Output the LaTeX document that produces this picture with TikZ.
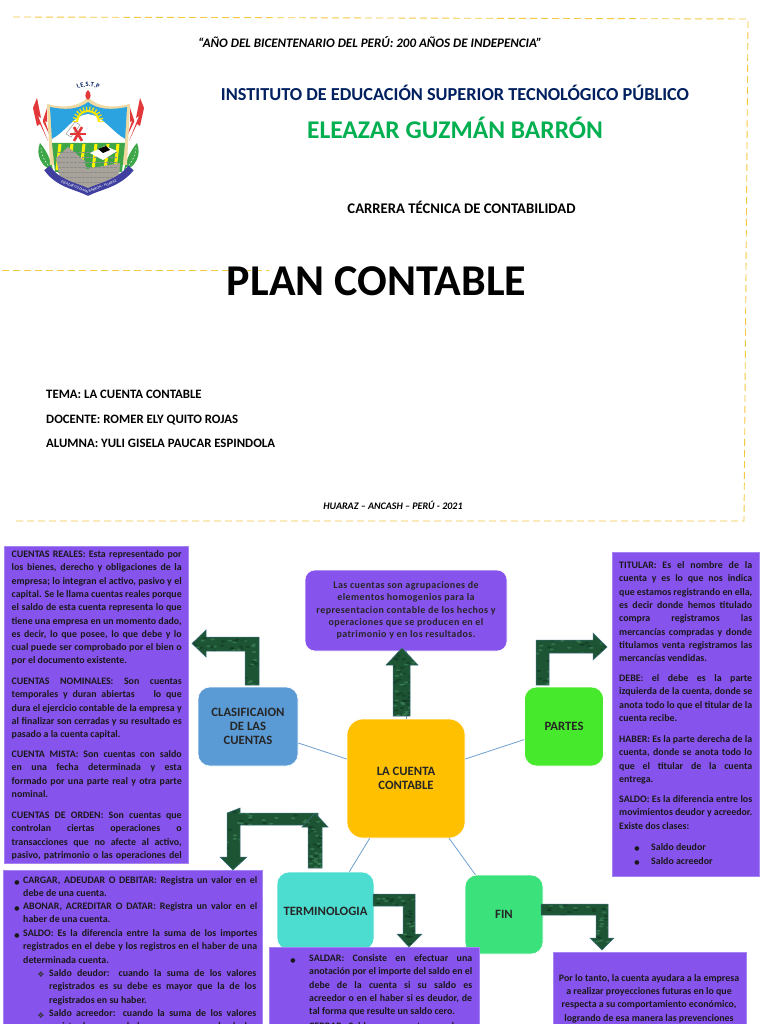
\documentclass[tikz,border=0pt]{standalone}
\usepackage{fontspec}
\setmainfont{Carlito}
\newfontfamily\symbfont{DejaVu Sans}
\usetikzlibrary{calc,decorations.text}
\definecolor{Frame}{HTML}{F5C842}
\definecolor{Panel}{HTML}{8753ED}
\definecolor{PanelEdge}{HTML}{A583F0}
\definecolor{Spoke}{HTML}{6F9FD0}
\definecolor{Core}{HTML}{FFC000}
\definecolor{Sky}{HTML}{5B9BD5}
\definecolor{Lime}{HTML}{46E92B}
\definecolor{Aqua}{HTML}{4DDDD0}
\definecolor{Mint}{HTML}{3BE27B}
\definecolor{Navy}{HTML}{002060}
\definecolor{Leaf}{HTML}{00B050}
\definecolor{ArrowBase}{HTML}{1C5434}
\definecolor{ArrowLight}{HTML}{4A9464}
\definecolor{ArrowDark}{HTML}{0E3220}
\definecolor{ArrowEdge}{HTML}{3F6F80}
\definecolor{LogoBlue}{HTML}{2BA3E0}
\definecolor{LogoTan}{HTML}{F0D9A2}
\definecolor{LogoRed}{HTML}{E2383A}
\definecolor{LogoGreen}{HTML}{3DA648}
\definecolor{LogoStone}{HTML}{A8A39A}
\definecolor{LogoBand}{HTML}{3F3F9F}
\newcommand{\bodyfont}{\fontsize{9.9}{13.3}\selectfont\bfseries}
\newcommand{\nl}{\linebreak}
\newcommand{\lastfull}{{\parfillskip=0pt\par}}
\tikzset{
  topic/.style={rectangle,rounded corners=12pt,draw=white,line width=.6pt,align=center,font=\fontsize{12.7}{14.3}\selectfont\bfseries,text=black!85},
  panel/.style={rectangle,fill=Panel,draw=PanelEdge,line width=.8pt,inner sep=0pt},
  bodytext/.style={inner sep=0pt,anchor=north west,align=justify,font=\bodyfont,text=black!90,execute at begin node=\strut},
  bodyline/.style={inner sep=0pt,anchor=base west,font=\bodyfont,text=black!90},
  bulletmark/.style={inner sep=0pt,anchor=base,font=\fontsize{6}{7}\selectfont\symbfont,text=black!90},
  diamondmark/.style={inner sep=0pt,anchor=base,font=\fontsize{8}{9}\selectfont\symbfont,text=black!80},
  spoke/.style={draw=Spoke,line width=.8pt},
  dashframe/.style={draw=Frame,line width=.9pt,dash pattern=on 7pt off 4pt},
  heading/.style={inner sep=0pt,font=\bfseries},
  infoline/.style={inner sep=0pt,anchor=base west,font=\fontsize{12.8}{15}\selectfont\bfseries},
  blockarrow/.style={fill=ArrowBase,draw=ArrowEdge,line width=.5pt,path picture={
    \foreach \i in {1,...,90}{
      \pgfmathsetmacro\rx{rnd}\pgfmathsetmacro\ry{rnd}\pgfmathsetmacro\rt{rnd}
      \pgfmathparse{\rt<.5?"ArrowLight":"ArrowDark"}\edef\spot{\pgfmathresult}
      \fill[\spot,opacity=.5] ($(path picture bounding box.south west)!\rx!(path picture bounding box.south east)-(path picture bounding box.south west)+(path picture bounding box.south west)!\ry!(path picture bounding box.north west)$) ellipse (2.2pt and 1pt);
    }}},
}
\begin{document}
\begin{tikzpicture}[x=1pt,y=-1pt]
  \useasboundingbox (0,0) rectangle (768,1024);
  \clip (0,0) rectangle (768,1024);
  \pgfmathsetseed{11}
  \fill[white] (0,0) rectangle (768,1024);
  % cover page
  \draw[dashframe] (13,17) -- (748,19) -- (744,521) -- (15,521);
  \draw[dashframe] (2,270) -- (269,270);
  \node[heading,font=\fontsize{13}{15}\selectfont\bfseries\itshape] (motto) at (370,42) {“AÑO DEL BICENTENARIO DEL PERÚ: 200 AÑOS DE INDEPENCIA”};
  \node[heading,text=Navy,font=\fontsize{18.3}{21}\selectfont\bfseries] (instituto) at (455,92.5) {INSTITUTO DE EDUCACIÓN SUPERIOR TECNOLÓGICO PÚBLICO};
  \node[heading,text=Leaf,font=\fontsize{25.5}{29}\selectfont\bfseries] (eleazar) at (455,127.5) {ELEAZAR GUZMÁN BARRÓN};
  \node[heading,font=\fontsize{14.7}{17}\selectfont\bfseries] (carrera) at (461.5,207.5) {CARRERA TÉCNICA DE CONTABILIDAD};
  \node[heading,font=\fontsize{44}{49}\selectfont\bfseries] (plan) at (376.5,281) {PLAN CONTABLE};
  \node[infoline] (tema) at (46,398.5) {TEMA: LA CUENTA CONTABLE};
  \node[infoline] (docente) at (46,423) {DOCENTE: ROMER ELY QUITO ROJAS};
  \node[infoline] (alumna) at (46,447) {ALUMNA: YULI GISELA PAUCAR ESPINDOLA};
  \node[heading,font=\fontsize{10}{12}\selectfont\bfseries\itshape] (lugar) at (393,505.5) {HUARAZ – ANCASH – PERÚ - 2021};
  % logo
  \foreach \s/\o in {1/0,-1/177}{
    \begin{scope}[xshift=\o pt,xscale=\s]
      \fill[LogoRed] (37,98) -- (41,118) -- (38,116) -- (48,141) -- (40,124) -- (37,126) -- (33,108) -- cycle;
      \fill[LogoRed] (47,108) -- (47,122) -- (45,121) -- (50,136) -- (43,122) -- (43,120) -- cycle;
      \fill[LogoGreen] (40,143) .. controls (35,155) and (42,168) .. (53,170) .. controls (51,160) and (46,150) .. (40,143) -- cycle;
      \draw[white,line width=.5pt,dash pattern=on 1.5pt off 2pt] (41,148) .. controls (42,158) and (47,165) .. (52,169);
    \end{scope}
  }
  \fill[LogoTan] (47,104) .. controls (62,108) and (78,108) .. (88,97) .. controls (98,108) and (114,108) .. (130,104) -- (127,165) -- (50,165) -- cycle;
  \fill[LogoBlue] (50,107) .. controls (64,110) and (78,110) .. (88,102) .. controls (98,110) and (112,110) .. (127,107) -- (125,141) -- (52,141) -- cycle;
  \fill[white] (52,139) .. controls (66,132) and (74,115) .. (88,114) .. controls (102,115) and (112,132) .. (125,139) -- (125,146) -- (52,146) -- cycle;
  \draw[yellow!90!orange,line width=2pt] (77,122) arc (180:360:11);
  \draw[yellow!90!orange,line width=4pt,dash pattern=on 1.2pt off 2pt] (74.5,122) arc (180:360:13.5);
  \draw[black!40,line width=.5pt,fill=white] (66,134) -- (75,122) -- (80,125) -- (71,137) -- cycle;
  \fill[LogoGreen] (52,143) -- (125,143) -- (122,172) -- (55,172) -- cycle;
  \foreach \p in {60,72,84,96,108,118}{
    \draw[yellow,line width=3pt] (\p,144) -- (\p-3,170);
  }
  \foreach \a in {0,60,120}{
    \draw[LogoRed,line width=2.6pt,rotate around={\a:(78,134)}] (70,134) -- (86,134);
  }
  \fill[LogoStone] (56,158) -- (68,147) -- (85,161) -- (86,169) -- (120,163) -- (119,178) -- (88,192) -- (60,178) -- cycle;
  \foreach \q in {152,157,162,167,172,177,182}{
    \draw[black!45,line width=.3pt,dash pattern=on 3pt off 1pt] (58,\q) -- (118,\q);
  }
  \fill[white] (90,153) -- (105,146) -- (117,151) -- (103,160) -- cycle;
  \fill[black] (98,149) -- (106,146) -- (110,150) -- (103,153) -- cycle;
  \draw[LogoBand,line width=7pt] (47,168) .. controls (58,184) and (76,186) .. (88,192) .. controls (100,186) and (118,184) .. (131,168);
  \path[decorate,decoration={text along path,text align=center,raise=-1.3pt,text={|\fontsize{3.8}{4}\selectfont\color{white}|ELEAZAR GUZMAN BARRON - HUARAZ}}] (47,168) .. controls (58,184) and (76,186) .. (88,192) .. controls (100,186) and (118,184) .. (131,168);
  \fill[LogoRed] (88,90) .. controls (84,94) and (85,98) .. (88,100) .. controls (91,98) and (92,94) .. (88,90) -- cycle;
  \path[decorate,decoration={text along path,text align=center,text={|\fontsize{6.5}{7}\selectfont\bfseries\color{Navy}|I.E.S.T.P}}] (70,95) .. controls (78,84) and (98,84) .. (106,95);
  % panels
  \node[panel,minimum width=184pt,minimum height=317pt] (realbox) at (96,704.5) {};
  \node[panel,minimum width=147pt,minimum height=324pt] (titularbox) at (685.5,714) {};
  % map nodes
  \node[topic,fill=Panel,rounded corners=10pt,minimum width=202pt,minimum height=81pt] (aviso) at (406,610.5) {};
  \node[topic,fill=Core,rounded corners=16pt,minimum width=118pt,minimum height=119pt] (centro) at (406,778.5) {LA CUENTA\\CONTABLE};
  \node[topic,fill=Sky,minimum width=100pt,minimum height=79pt] (clasif) at (248,726.5) {CLASIFICAION\\DE LAS\\CUENTAS};
  \node[topic,fill=Lime,minimum width=79pt,minimum height=79pt] (partes) at (564,726.5) {PARTES};
  \node[topic,fill=Aqua,minimum width=97pt,minimum height=78pt] (termino) at (325.5,911) {TERMINOLOGIA};
  \node[topic,fill=Mint,minimum width=78pt,minimum height=79pt] (fin) at (504,914.5) {FIN};
  \draw[spoke] (centro) -- (aviso);
  \draw[spoke] (centro) -- (clasif);
  \draw[spoke] (centro) -- (partes);
  \draw[spoke] (centro) -- (termino);
  \draw[spoke] (centro) -- (fin);
  \node[inner sep=0pt,align=center,text=black!85,font=\fontsize{10}{12.3}\selectfont\bfseries\addfontfeatures{LetterSpace=4}] (avisotext) at (406,610.5) {Las cuentas son agrupaciones de\\elementos homogenios para la\\representacion contable de los hechos y\\operaciones que se producen en el\\patrimonio y en los resultados.};
  % lower panels
  \node[panel,minimum width=259pt,minimum height=170pt,anchor=north west] (cargarbox) at (3,870) {};
  \node[panel,minimum width=210pt,minimum height=90pt,anchor=north west] (saldarbox) at (269,947) {};
  \node[panel,minimum width=193pt,minimum height=90pt,anchor=north west] (finbox) at (553,952) {};
  % block arrows
  \path[blockarrow] (259,685) -- (259,637) -- (206,637) -- (206,630) -- (192,643.5) -- (206,657) -- (206,651) -- (245,651) -- (245,685) -- cycle;
  \path[blockarrow] (393,716) -- (393,665) -- (386,665) -- (402,648) -- (418,665) -- (410,665) -- (410,716) -- cycle;
  \path[blockarrow] (536,685) -- (536,640) -- (593,640) -- (593,633) -- (607,647) -- (593,660) -- (593,653) -- (549,653) -- (549,685) -- cycle;
  \path[blockarrow] (318,813) -- (240,813) -- (240,808) -- (227,813) -- (227,857) -- (220,857) -- (233,870) -- (247,857) -- (240,857) -- (240,825) -- (318,825) -- cycle;
  \path[blockarrow] (308,868) -- (308,827) -- (302,827) -- (315,813) -- (328,827) -- (322,827) -- (322,868) -- cycle;
  \path[blockarrow] (373,894) -- (415,894) -- (415,934) -- (422,934) -- (409,947) -- (397,934) -- (403,934) -- (403,906) -- (373,906) -- cycle;
  \path[blockarrow] (541,904) -- (608,904) -- (608,938) -- (614,938) -- (602,950) -- (590,938) -- (596,938) -- (596,915) -- (541,915) -- cycle;
  % left panel text
  \node[bodytext,text width=170pt] (reales) at (11.5,548) {CUENTAS REALES: Esta representado por\nl
    los bienes, derecho y obligaciones de la\nl
    empresa; lo integran el activo, pasivo y el\nl
    capital. Se le llama cuentas reales porque\nl
    el saldo de esta cuenta representa lo que\nl
    tiene una empresa en un momento dado,\nl
    es decir, lo que posee, lo que debe y lo\nl
    cual puede ser comprobado por el bien o\nl
    por el documento existente.};
  \node[bodytext,text width=170pt] (nominales) at (11.5,675) {CUENTAS NOMINALES: Son cuentas\nl
    temporales y duran abiertas\hspace{14pt} lo que\nl
    dura el ejercicio contable de la empresa y\nl
    al finalizar son cerradas y su resultado es\nl
    pasado a la cuenta capital.};
  \node[bodytext,text width=170pt] (mista) at (11.5,748) {CUENTA MISTA: Son cuentas con saldo\nl
    en una fecha determinada y esta\nl
    formado por una parte real y otra parte\nl
    nominal.};
  \node[bodytext,text width=170pt] (orden) at (11.5,809) {CUENTAS DE ORDEN: Son cuentas que\nl
    controlan ciertas operaciones o\nl
    transacciones que no afecte al activo,\nl
    pasivo, patrimonio o las operaciones del\lastfull};
  % right panel text
  \node[bodytext,text width=133pt] (titular) at (619,559) {TITULAR: Es el nombre de la\nl
    cuenta y es lo que nos indica\nl
    que estamos registrando en ella,\nl
    es decir donde hemos titulado\nl
    compra registramos las\nl
    mercancías compradas y donde\nl
    titulamos venta registramos las\nl
    mercancías vendidas.};
  \node[bodytext,text width=133pt] (debe) at (619,672) {DEBE: el debe es la parte\nl
    izquierda de la cuenta, donde se\nl
    anota todo lo que el titular de la\nl
    cuenta recibe.};
  \node[bodytext,text width=133pt] (haber) at (619,733) {HABER: Es la parte derecha de la\nl
    cuenta, donde se anota todo lo\nl
    que el titular de la cuenta\nl
    entrega.};
  \node[bodytext,text width=133pt] (saldo) at (619,793) {SALDO: Es la diferencia entre los\nl
    movimientos deudor y acreedor.\nl
    Existe dos clases:};
  \node[bulletmark] (markdeudor) at (637,850) {●};
  \node[bodyline] (deudor) at (651,850) {Saldo deudor};
  \node[bulletmark] (markacreedor) at (637,864) {●};
  \node[bodyline] (acreedor) at (651,864) {Saldo acreedor};
  % terminology text
  \node[bulletmark] (markcargar) at (17,884) {●};
  \node[bodytext,text width=234pt] (cargar) at (23,874) {CARGAR, ADEUDAR O DEBITAR: Registra un valor en el\nl debe de una cuenta.};
  \node[bulletmark] (markabonar) at (17,910) {●};
  \node[bodytext,text width=234pt] (abonar) at (23,900) {ABONAR, ACREDITAR O DATAR: Registra un valor en el\nl haber de una cuenta.};
  \node[bulletmark] (marksaldo) at (17,937) {●};
  \node[bodytext,text width=234pt] (saldoterm) at (23,927) {SALDO: Es la diferencia entre la suma de los importes\nl
    registrados en el debe y los registros en el haber de una\nl
    determinada cuenta.};
  \node[diamondmark] (markdeudorb) at (41,977) {❖};
  \node[bodytext,text width=207pt] (deudorb) at (49,967) {Saldo deudor: cuando la suma de los valores\nl
    registrados es su debe es mayor que la de los\nl
    registrados en su haber.};
  \node[diamondmark] (markacreedorb) at (41,1018) {❖};
  \node[bodytext,text width=207pt] (acreedorb) at (49,1007) {Saldo acreedor: cuando la suma de los valores\nl
    registrados en su haber es mayor que la de los\lastfull};
  % closing text
  \node[bulletmark] (marksaldar) at (293,962) {●};
  \node[bodytext,text width=163pt] (saldar) at (309,952) {SALDAR: Consiste en efectuar una\nl
    anotación por el importe del saldo en el\nl
    debe de la cuenta si su saldo es\nl
    acreedor o en el haber si es deudor, de\nl
    tal forma que resulte un saldo cero.};
  \node[bodytext,text width=163pt] (cerrar) at (309,1020) {CERRAR: Saldar una cuenta cuando se\lastfull};
  \node[inner sep=0pt,anchor=north,align=center,font=\bodyfont,text=black!90,execute at begin node=\strut] (cierre) at (649,974) {Por lo tanto, la cuenta ayudara a la empresa\\a realizar proyecciones futuras en lo que\\respecta a su comportamiento económico,\\logrando de esa manera las prevenciones};
\end{tikzpicture}
\end{document}
